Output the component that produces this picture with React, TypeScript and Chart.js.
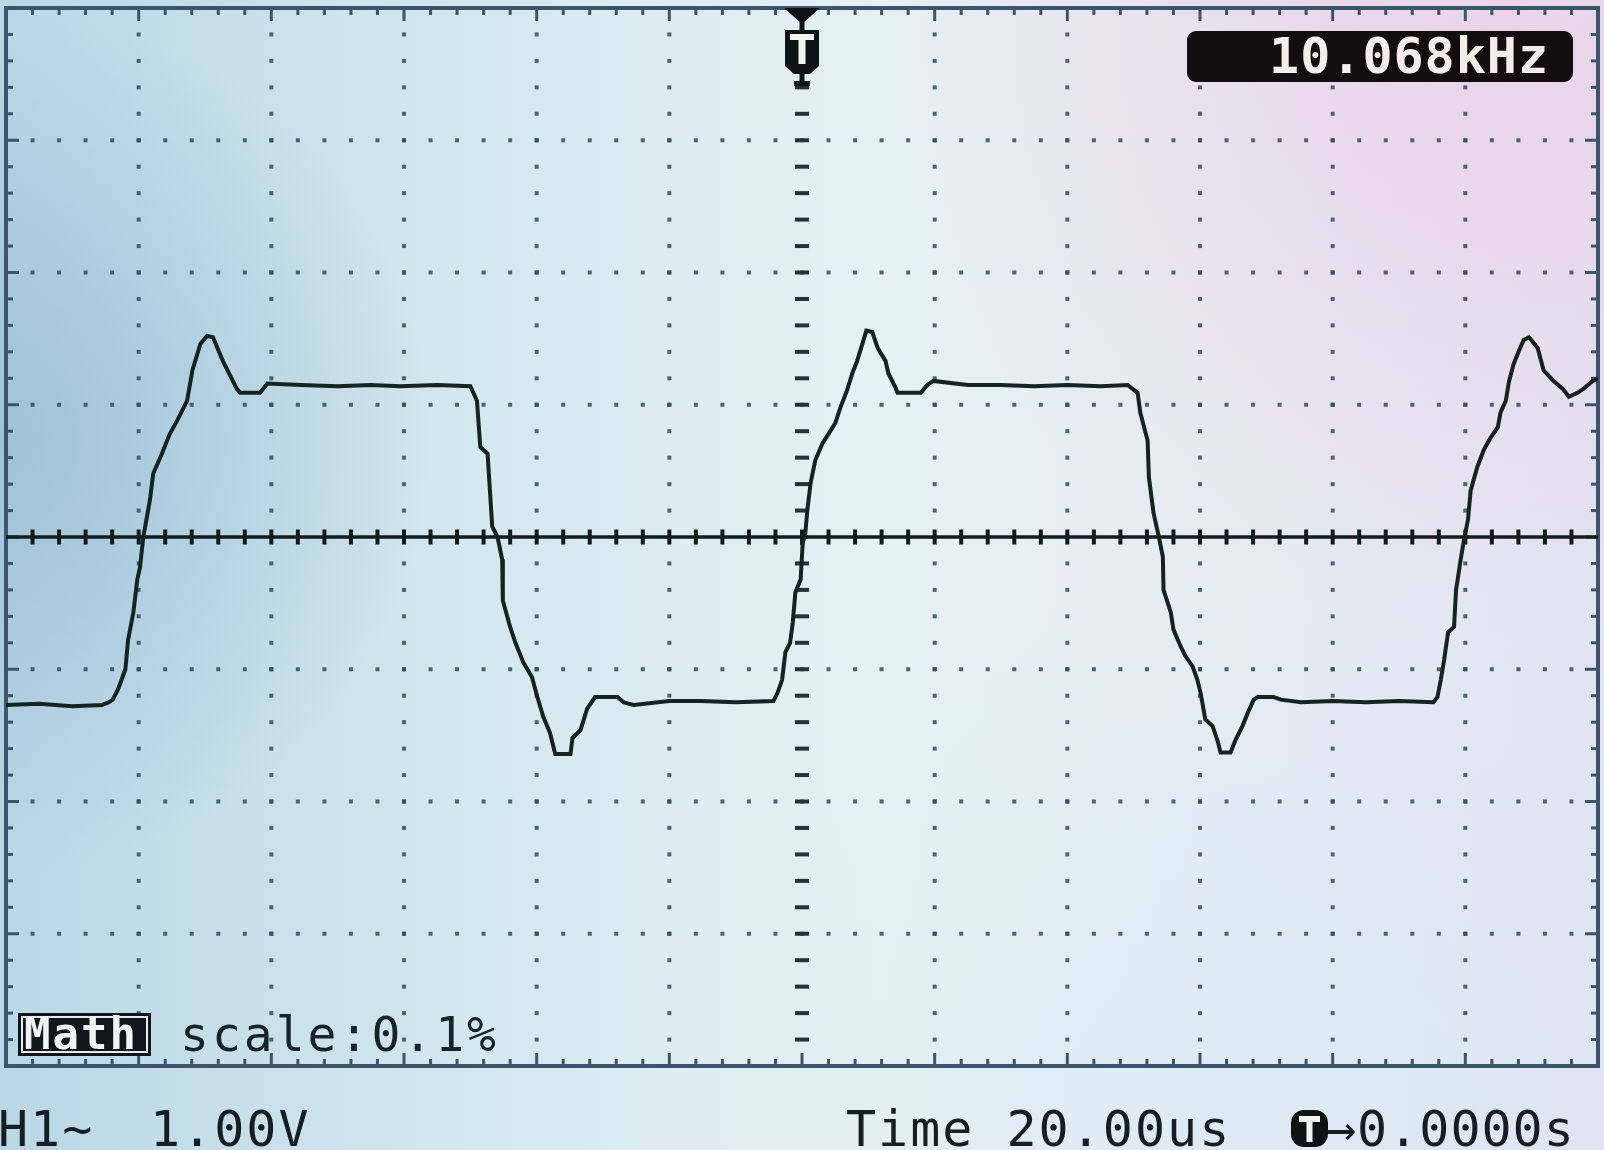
import React, { useEffect, useRef } from "react";
import { Chart, registerables } from "chart.js";

Chart.register(...registerables);

// ---- Data (time in µs, amplitude in volts) ----
const traceTimeUs = [
  -120.0, -115.0, -110.0, -105.5, -104.5, -103.9, -103.1, -102.0, -101.6, -100.8,
  -100.2, -99.8, -99.3, -98.3, -97.8, -96.5, -95.3, -94.2, -92.7, -91.9,
  -90.7, -89.7, -88.8, -87.3, -85.2, -84.7, -81.7, -80.6, -75.6, -70.0,
  -65.0, -60.6, -55.0, -50.0, -49.0, -48.5, -47.4, -46.7, -45.9, -45.2,
  -45.1, -44.0, -43.2, -42.0, -40.7, -39.9, -39.0, -38.0, -37.2, -34.9,
  -34.6, -33.4, -32.4, -31.2, -27.8, -26.9, -25.4, -20.0, -15.3, -10.0,
  -4.3, -3.7, -3.0, -2.5, -1.8, -1.4, -1.0, -0.2, 0.1, 0.5,
  0.8, 1.3, 2.0, 3.1, 4.0, 5.0, 5.8, 6.8, 7.6, 8.3,
  9.1, 9.7, 10.6, 11.4, 12.6, 13.0, 14.1, 14.4, 17.9, 18.9,
  19.8, 25.0, 29.9, 35.0, 40.0, 45.0, 49.1, 50.6, 51.0, 52.1,
  52.3, 53.0, 53.8, 54.4, 54.5, 55.6, 56.0, 57.1, 57.8, 58.9,
  59.6, 60.1, 60.8, 61.9, 62.7, 63.1, 64.6, 65.4, 66.4, 67.2,
  68.1, 68.7, 71.1, 72.2, 75.2, 80.0, 85.0, 90.0, 95.2, 95.8,
  96.3, 96.8, 97.4, 98.3, 98.6, 99.3, 99.8, 100.4, 100.8, 101.8,
  102.8, 103.8, 104.9, 105.3, 106.1, 106.6, 107.3, 108.1, 108.8, 109.6,
  110.9, 111.8, 113.3, 114.7, 115.6, 116.9, 117.8, 119.2, 120.0,
];
const traceVolts = [
  -1.27, -1.26, -1.28, -1.27, -1.25, -1.23, -1.15, -1.0, -0.78, -0.57,
  -0.32, -0.23, 0.0, 0.28, 0.48, 0.63, 0.78, 0.88, 1.03, 1.26,
  1.46, 1.52, 1.51, 1.33, 1.12, 1.09, 1.09, 1.16, 1.15, 1.14,
  1.15, 1.14, 1.15, 1.14, 1.03, 0.68, 0.63, 0.08, 0.0, -0.17,
  -0.48, -0.68, -0.8, -0.95, -1.06, -1.21, -1.36, -1.48, -1.64, -1.64,
  -1.52, -1.46, -1.3, -1.21, -1.21, -1.25, -1.27, -1.24, -1.24, -1.25,
  -1.24, -1.18, -1.08, -0.87, -0.8, -0.65, -0.42, -0.32, -0.05, 0.03,
  0.2, 0.41, 0.58, 0.71, 0.78, 0.86, 0.98, 1.11, 1.24, 1.33,
  1.46, 1.56, 1.55, 1.43, 1.33, 1.24, 1.13, 1.09, 1.09, 1.15,
  1.18, 1.15, 1.15, 1.14, 1.15, 1.14, 1.15, 1.09, 0.94, 0.73,
  0.45, 0.18, 0.0, -0.15, -0.4, -0.57, -0.7, -0.83, -0.9, -0.98,
  -1.08, -1.18, -1.38, -1.43, -1.55, -1.63, -1.63, -1.53, -1.43, -1.33,
  -1.23, -1.21, -1.21, -1.23, -1.25, -1.24, -1.25, -1.24, -1.25, -1.21,
  -1.08, -0.93, -0.72, -0.68, -0.4, -0.17, -0.02, 0.13, 0.35, 0.53,
  0.66, 0.75, 0.83, 0.94, 1.03, 1.18, 1.31, 1.41, 1.49, 1.51,
  1.43, 1.26, 1.18, 1.12, 1.06, 1.09, 1.12, 1.18, 1.2,
];

// ---- Scope settings / labels ----
const timePerDivUs = 20;
const voltsPerDiv = 1;
const horizontalDivs = 12;
const verticalDivs = 8;
const subDivs = 5;
const triggerTimeUs = 0;
const frequencyLabel = "10.068kHz";
const mathLabel = "Math";
const mathScaleLabel = "scale:0.1%";
const channelLabel = "H1~";
const channelScaleLabel = "1.00V";
const timebaseLabel = "Time 20.00us";
const triggerOffsetLabel = "\u21920.0000s";

const W = 1604;
const H = 1150;
const MONO = '"DejaVu Sans Mono", "Liberation Mono", monospace';

const scopePlugin = {
  id: "scope",
  beforeDraw(chart: any) {
    const ctx = chart.ctx as CanvasRenderingContext2D;
    ctx.save();
    const g = ctx.createLinearGradient(0, 0, W, 0);
    g.addColorStop(0, "#bad7e6");
    g.addColorStop(0.3, "#d4e8ef");
    g.addColorStop(0.55, "#e6f1f3");
    g.addColorStop(0.8, "#e6ebf2");
    g.addColorStop(1, "#e2e4f0");
    ctx.fillStyle = g;
    ctx.fillRect(0, 0, W, H);
    const r1 = ctx.createRadialGradient(1500, 20, 0, 1500, 20, 620);
    r1.addColorStop(0, "rgba(236,208,230,0.85)");
    r1.addColorStop(1, "rgba(236,208,230,0)");
    ctx.fillStyle = r1;
    ctx.fillRect(0, 0, W, H);
    const r2 = ctx.createRadialGradient(0, 440, 0, 0, 440, 430);
    r2.addColorStop(0, "rgba(140,180,205,0.6)");
    r2.addColorStop(1, "rgba(140,180,205,0)");
    ctx.fillStyle = r2;
    ctx.fillRect(0, 0, W, H);
    const r3 = ctx.createRadialGradient(1300, 1150, 0, 1300, 1150, 600);
    r3.addColorStop(0, "rgba(214,232,244,0.6)");
    r3.addColorStop(1, "rgba(214,232,244,0)");
    ctx.fillStyle = r3;
    ctx.fillRect(0, 0, W, H);
    ctx.restore();
  },
  beforeDatasetsDraw(chart: any) {
    const ctx = chart.ctx as CanvasRenderingContext2D;
    const xs = chart.scales.x;
    const ys = chart.scales.y;
    const xMin = -(horizontalDivs / 2) * timePerDivUs;
    const yMin = -(verticalDivs / 2) * voltsPerDiv;
    const px = (d: number) => xs.getPixelForValue(xMin + d * timePerDivUs);
    const py = (d: number) => ys.getPixelForValue(yMin + d * voltsPerDiv);
    const { left, right, top, bottom } = chart.chartArea;
    const cxDiv = horizontalDivs / 2;
    const cyDiv = verticalDivs / 2;
    ctx.save();
    // dotted grid
    ctx.fillStyle = "rgba(48,78,96,0.85)";
    for (let i = 1; i < horizontalDivs; i++) {
      if (i === cxDiv) continue;
      const x = px(i);
      for (let j = 1; j < verticalDivs * subDivs; j++) {
        const y = py(j / subDivs);
        ctx.fillRect(x - 2, y - 2, 4, 4);
      }
    }
    for (let k = 1; k < verticalDivs; k++) {
      if (k === cyDiv) continue;
      const y = py(k);
      for (let i = 1; i < horizontalDivs * subDivs; i++) {
        const x = px(i / subDivs);
        ctx.fillRect(x - 2, y - 2, 4, 4);
      }
    }
    // border
    ctx.strokeStyle = "#3b566c";
    ctx.lineWidth = 4;
    ctx.strokeRect(left, top, right - left, bottom - top);
    ctx.fillStyle = "#3b566c";
    for (let i = 1; i < horizontalDivs * subDivs; i++) {
      const x = px(i / subDivs);
      const len = i % subDivs === 0 ? 13 : 7;
      ctx.fillRect(x - 1.5, top, 3, len);
      ctx.fillRect(x - 1.5, bottom - len, 3, len);
    }
    for (let j = 1; j < verticalDivs * subDivs; j++) {
      const y = py(j / subDivs);
      const len = j % subDivs === 0 ? 13 : 7;
      ctx.fillRect(left, y - 1.5, len, 3);
      ctx.fillRect(right - len, y - 1.5, len, 3);
    }
    // center horizontal axis
    const y0 = py(cyDiv);
    ctx.fillStyle = "#131c1c";
    ctx.fillRect(left, y0 - 1.75, right - left, 3.5);
    for (let i = 1; i < horizontalDivs * subDivs; i++) {
      const x = px(i / subDivs);
      ctx.fillRect(x - 2, y0 - 7.5, 4, 15);
    }
    // center vertical axis (dashes)
    const x0 = px(cxDiv);
    ctx.fillStyle = "#24323a";
    for (let j = 1; j < verticalDivs * subDivs; j++) {
      if (j === cyDiv * subDivs) continue;
      const y = py(j / subDivs);
      ctx.fillRect(x0 - 7, y - 2, 14, 4);
    }
    ctx.restore();
  },
  afterDraw(chart: any) {
    const ctx = chart.ctx as CanvasRenderingContext2D;
    const xs = chart.scales.x;
    const { top } = chart.chartArea;
    const tx = xs.getPixelForValue(triggerTimeUs);
    ctx.save();
    // trigger marker at top
    ctx.fillStyle = "#0e1214";
    ctx.beginPath();
    ctx.moveTo(tx - 18, top);
    ctx.lineTo(tx + 18, top);
    ctx.lineTo(tx, top + 16);
    ctx.closePath();
    ctx.fill();
    ctx.fillRect(tx - 2.5, top + 14, 5, 10);
    ctx.beginPath();
    ctx.moveTo(tx - 17, 30);
    ctx.lineTo(tx + 17, 30);
    ctx.lineTo(tx + 17, 66);
    ctx.lineTo(tx + 8, 74);
    ctx.lineTo(tx - 8, 74);
    ctx.lineTo(tx - 17, 66);
    ctx.closePath();
    ctx.fill();
    ctx.fillRect(tx - 2.5, 72, 5, 10);
    ctx.fillRect(tx - 8, 81, 16, 5);
    ctx.fillStyle = "#f2f4f2";
    ctx.fillRect(tx - 12, 34, 24, 6);
    ctx.fillRect(tx - 3.5, 34, 7, 30);

    // frequency readout
    ctx.fillStyle = "#120d0e";
    ctx.beginPath();
    (ctx as any).roundRect(1187, 31, 386, 51, 9);
    ctx.fill();
    ctx.fillStyle = "#f4ede8";
    ctx.font = `bold 50px ${MONO}`;
    ctx.textAlign = "right";
    ctx.textBaseline = "alphabetic";
    (ctx as any).letterSpacing = "1px";
    ctx.fillText(frequencyLabel, 1549, 73);

    // Math label
    ctx.textAlign = "left";
    ctx.fillStyle = "#10161a";
    ctx.fillRect(18, 1013, 133, 43);
    ctx.strokeStyle = "#e8eef0";
    ctx.lineWidth = 2;
    ctx.strokeRect(22, 1017, 125, 35);
    ctx.fillStyle = "#f1f4f4";
    ctx.font = `bold 44px ${MONO}`;
    (ctx as any).letterSpacing = "2px";
    ctx.fillText(mathLabel, 24, 1049);
    ctx.fillStyle = "#182228";
    ctx.font = `48px ${MONO}`;
    (ctx as any).letterSpacing = "3px";
    ctx.fillText(mathScaleLabel, 180, 1051);

    // bottom status line
    ctx.font = `50px ${MONO}`;
    (ctx as any).letterSpacing = "2px";
    ctx.fillStyle = "#161e24";
    ctx.fillText(channelLabel, -2, 1146);
    ctx.fillText(channelScaleLabel, 150, 1146);
    ctx.fillText(timebaseLabel, 846, 1146);
    // trigger badge
    ctx.fillStyle = "#0e1214";
    ctx.beginPath();
    (ctx as any).roundRect(1291, 1110, 37, 37, 13);
    ctx.fill();
    ctx.fillStyle = "#f2f4f2";
    ctx.fillRect(1299, 1116, 21, 6);
    ctx.fillRect(1306.5, 1116, 6, 26);
    ctx.fillStyle = "#161e24";
    (ctx as any).letterSpacing = "1px";
    ctx.fillText(triggerOffsetLabel, 1326, 1146);
    ctx.restore();
  },
};

export default function App() {
  const canvasRef = useRef<HTMLCanvasElement | null>(null);

  useEffect(() => {
    document.body.style.margin = "0";
    const canvas = canvasRef.current;
    if (!canvas) return;
    const points = traceTimeUs.map((t, i) => ({ x: t, y: traceVolts[i] }));
    const chart = new Chart(canvas, {
      type: "line",
      data: {
        datasets: [
          {
            label: "CH1",
            data: points,
            borderColor: "#16231f",
            borderWidth: 4,
            pointRadius: 0,
            tension: 0,
            fill: false,
            borderJoinStyle: "miter",
          },
        ],
      },
      options: {
        responsive: false,
        animation: false,
        events: [],
        layout: { padding: { left: 6, right: 6, top: 8, bottom: 84 } },
        plugins: {
          legend: { display: false },
          tooltip: { enabled: false },
          title: { display: false },
        },
        scales: {
          x: {
            type: "linear",
            display: false,
            min: -(horizontalDivs / 2) * timePerDivUs,
            max: (horizontalDivs / 2) * timePerDivUs,
          },
          y: {
            type: "linear",
            display: false,
            min: -(verticalDivs / 2) * voltsPerDiv,
            max: (verticalDivs / 2) * voltsPerDiv,
          },
        },
      },
      plugins: [scopePlugin],
    });
    return () => chart.destroy();
  }, []);

  return (
    <div style={{ position: "fixed", left: 0, top: 0, width: W, height: H }}>
      <canvas ref={canvasRef} width={W} height={H} style={{ display: "block", width: W, height: H }} />
    </div>
  );
}
